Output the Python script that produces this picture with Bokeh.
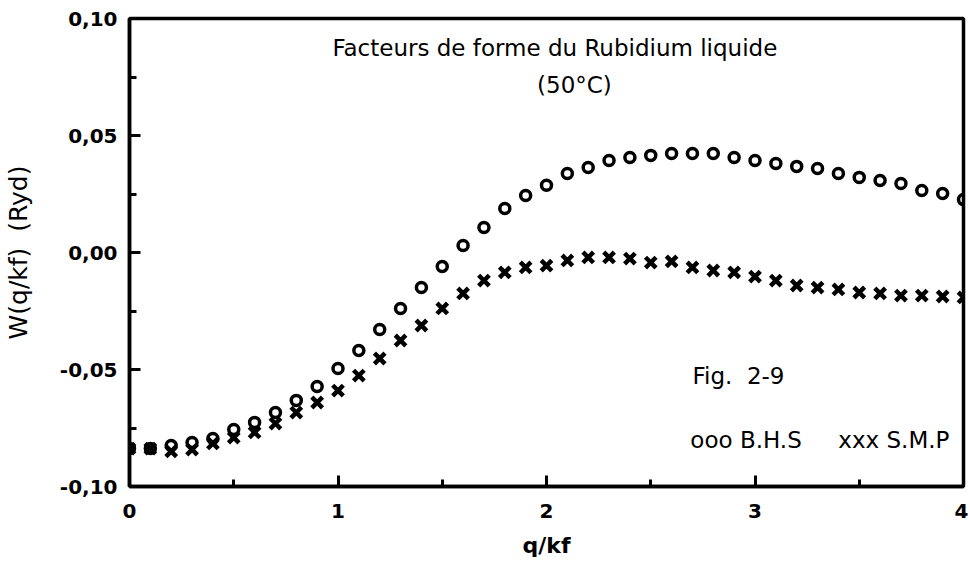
from bokeh.plotting import figure
from bokeh.models import Range1d, FixedTicker, Label
from bokeh.embed import file_html
from bokeh.resources import INLINE

# ---- data ----
q = [0.0, 0.1, 0.2, 0.3, 0.4, 0.5, 0.6, 0.7, 0.8, 0.9,
     1.0, 1.1, 1.2, 1.3, 1.4, 1.5, 1.6, 1.7, 1.8, 1.9,
     2.0, 2.1, 2.2, 2.3, 2.4, 2.5, 2.6, 2.7, 2.8, 2.9,
     3.0, 3.1, 3.2, 3.3, 3.4, 3.5, 3.6, 3.7, 3.8, 3.9, 4.0]

w_bhs = [-0.0838, -0.0838, -0.0825, -0.0812, -0.0795, -0.0756, -0.0726, -0.0684, -0.0632, -0.0573,
         -0.0496, -0.0419, -0.0329, -0.0239, -0.0150, -0.0060, 0.0030, 0.0107, 0.0188, 0.0244,
         0.0287, 0.0338, 0.0363, 0.0393, 0.0406, 0.0415, 0.0423, 0.0423, 0.0423, 0.0406,
         0.0393, 0.0380, 0.0368, 0.0359, 0.0338, 0.0321, 0.0308, 0.0295, 0.0265, 0.0252, 0.0226]

w_smp = [-0.0838, -0.0838, -0.0850, -0.0842, -0.0816, -0.0791, -0.0769, -0.0731, -0.0684, -0.0641,
         -0.0590, -0.0526, -0.0453, -0.0376, -0.0312, -0.0239, -0.0175, -0.0120, -0.0085, -0.0064,
         -0.0056, -0.0034, -0.0021, -0.0021, -0.0026, -0.0043, -0.0038, -0.0064, -0.0077, -0.0085,
         -0.0103, -0.0120, -0.0141, -0.0150, -0.0158, -0.0171, -0.0175, -0.0184, -0.0184, -0.0188, -0.0192]

x_ticks = [0, 1, 2, 3, 4]
x_minor_ticks = [0.5, 1.5, 2.5, 3.5]
y_ticks = [-0.10, -0.05, 0.0, 0.05, 0.10]
y_tick_labels = ["-0,10", "-0,05", "0,00", "0,05", "0,10"]
y_minor_ticks = [-0.075, -0.025, 0.025, 0.075]

NB = "\u00a0"
title_line1 = "Facteurs de forme du Rubidium liquide"
title_line2 = "(50°C)"
fig_label = "Fig." + NB * 2 + "2-9"
legend_text = "ooo B.H.S" + NB * 5 + "xxx S.M.P"
x_label = "q/kf"
y_label = "W(q/kf)" + NB * 2 + "(Ryd)"

FONT = "DejaVu Sans"

p = figure(width=968, height=562, output_backend="svg", toolbar_location=None,
           x_range=Range1d(0, 4), y_range=Range1d(-0.1, 0.1),
           min_border_left=129, min_border_right=5, min_border_top=18, min_border_bottom=76,
           background_fill_color="white", border_fill_color="white")

p.grid.visible = False
p.outline_line_color = "black"
p.outline_line_width = 3.5

xa = p.xaxis[0]
xa.ticker = FixedTicker(ticks=x_ticks, minor_ticks=x_minor_ticks)
xa.axis_label = x_label
ya = p.yaxis[0]
ya.ticker = FixedTicker(ticks=y_ticks, minor_ticks=y_minor_ticks)
ya.major_label_overrides = {t: s for t, s in zip(y_ticks, y_tick_labels)}
ya.axis_label = y_label

for ax in (xa, ya):
    ax.axis_line_color = "black"
    ax.axis_line_width = 3.5
    ax.major_tick_line_color = "black"
    ax.major_tick_line_width = 3
    ax.minor_tick_line_color = "black"
    ax.minor_tick_line_width = 3
    ax.major_tick_in = 11
    ax.major_tick_out = 0
    ax.minor_tick_in = 7
    ax.minor_tick_out = 0
    ax.major_label_text_font = FONT
    ax.major_label_text_font_style = "bold"
    ax.major_label_text_font_size = "20px"
    ax.major_label_text_color = "black"
    ax.axis_label_text_font = FONT
    ax.axis_label_text_color = "black"

xa.major_label_standoff = 17
xa.axis_label_standoff = 12
xa.axis_label_text_font_style = "bold"
xa.axis_label_text_font_size = "22px"

ya.major_label_standoff = 12
ya.axis_label_standoff = 24
ya.axis_label_text_font_style = "normal"
ya.axis_label_text_font_size = "25px"

p.scatter(q, w_smp, marker="x", size=15, line_color="black", line_width=4.5)
p.scatter(q, w_bhs, marker="circle", size=10, fill_color=None, line_color="black", line_width=3.5)

common = dict(text_font=FONT, text_color="black", text_baseline="middle")
p.add_layout(Label(x=2.04, y=0.0876, text=title_line1, text_align="center", text_font_size="23px", **common))
p.add_layout(Label(x=2.134, y=0.0714, text=title_line2, text_align="center", text_font_size="23px", **common))
p.add_layout(Label(x=2.70, y=-0.0526, text=fig_label, text_align="left", text_font_size="23px", **common))
p.add_layout(Label(x=2.69, y=-0.0803, text=legend_text, text_align="left", text_font_size="23px", **common))

open("out.html", "w").write(file_html(p, INLINE))
